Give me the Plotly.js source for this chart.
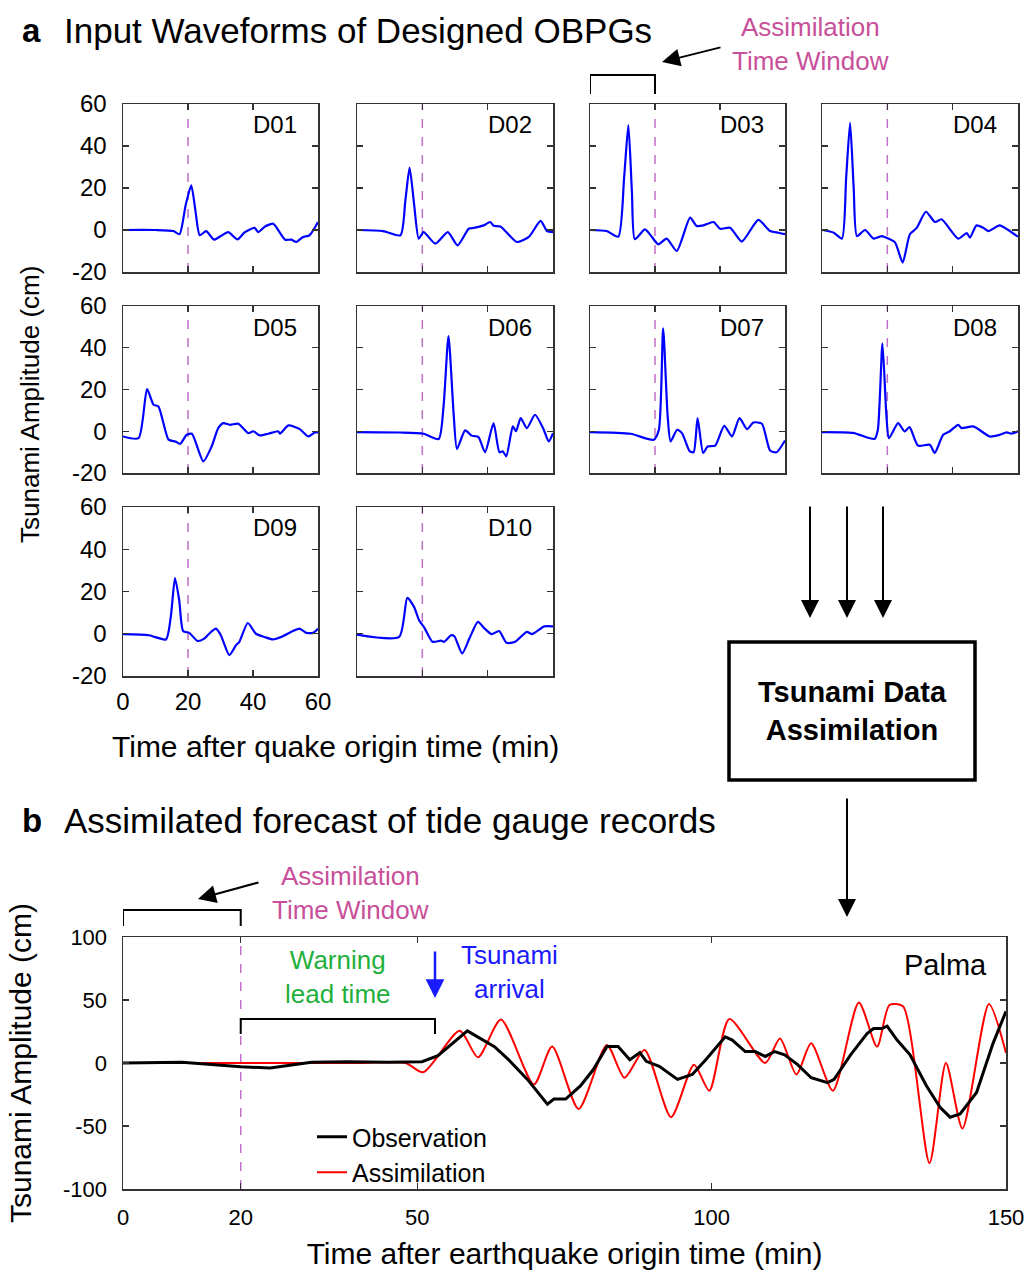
<!DOCTYPE html>
<html>
<head>
<meta charset="utf-8">
<script src="https://cdn.plot.ly/plotly-3.0.1.min.js"></script>
<style>html,body{margin:0;padding:0;background:#fff;}#chart{width:1027px;height:1275px;}</style>
</head>
<body>
<div id="chart"></div>
<script>
// ---------- DATA ----------
const gaugeNames = ['D01','D02','D03','D04','D05','D06','D07','D08','D09','D10'];

const t_D01 = [0,10,15.5,17.4,19.3,21,22.3,23.6,25.6,28,30,32.4,35.2,37.5,40.5,41.6,43.7,46.2,47.1,49.9,51.8,53.3,55.4,57.4,60];
const a_D01 = [0,0,-0.5,-2,12,21.3,9,-2.5,-0.5,-4.6,-3,-1,-4.5,-1,1,-1,1.7,3,1.5,-4.6,-4.6,-5.7,-3.3,-2.5,3.8];

const t_D02 = [0,8,13.3,14.8,16.1,17.5,18.9,20.4,24,27.8,30.8,34.2,35.7,37.2,38.8,40.8,41.8,43.9,48.9,52.6,56.2,58.2,60];
const a_D02 = [0,-0.5,-2.5,14,29.7,12,-4.1,-1,-6.5,-1,-7.3,0.6,1,1.5,2.2,3.8,2,1.7,-5.7,-3.3,4.3,-0.5,-1];

const t_D03 = [0,5.1,8.7,10.5,11.8,12.9,13.8,16.9,19,21,23.6,26.7,30.8,32.8,34.9,38,40,43.1,46.7,51.8,55.4,58,60];
const a_D03 = [0,-0.5,-3.2,25,49.9,18,-4.4,0.3,-3.2,-6.8,-4.1,-10,5.9,1.9,2.2,3.8,0.6,1.1,-5.5,4.8,-0.5,-1.3,-2];

const t_D04 = [0,3.6,6.1,7.4,8.6,9.7,10.7,13.2,15.8,18.3,20.3,22.4,24.7,26.9,29,31.8,34.6,36.6,41.7,44.3,45.3,47.3,49.3,50.9,54.4,57,60];
const a_D04 = [0,-1.3,-4.1,25,51,20,-2.9,0,-4.1,-2.9,-4.1,-6,-15.5,-2,1,8.7,3.8,5.1,-4.1,-1.5,-3.6,2.2,1.1,-0.5,2.2,0,-3.2];

const t_D05 = [0,4.8,7.4,9.4,10.9,14,16.1,17.6,19.6,21.2,24.7,27.3,29.3,30.9,32.9,35.5,38.5,40.1,42.1,44.7,47.7,48.3,50.9,54.4,57,59,60];
const a_D05 = [-2.5,-3.3,20.2,12.7,11.9,-4,-4.9,-6,-1.7,-1.2,-14.4,-7.2,1.5,3.9,3.1,3.6,-0.9,0,-2,-1.2,0,-1.1,2.8,1,-2.5,-0.6,-0.6];

const t_D06 = [0,13.3,20.4,25,26.5,28,29.6,30.6,33.1,35.1,37.2,39.2,41.8,43.6,44.6,45.7,47.7,48.7,50.1,52,54.5,57.1,58.7,60];
const a_D06 = [-0.4,-0.6,-1.2,-3.7,12,45.6,8,-8.5,0.4,-2.1,-2.8,-10.1,3.9,-10.1,-9.6,-12,2.3,0,6.3,1.5,7.9,1,-4.9,-0.9];

const t_D07 = [0,12.5,19.6,21.2,22.5,23.9,24.8,26.8,28.3,30.7,31.9,33.1,34.8,36.2,38.5,41.3,43.7,46,48.3,50.3,52.9,55.4,57.4,60];
const a_D07 = [-0.4,-1.2,-4.1,0.7,49.3,7,-4.9,0.7,-0.9,-9.6,-10,6.3,-10.4,-7.3,-6.9,2.6,-2.5,6.3,1,4.2,3.6,-9.2,-10.1,-4.4];

const t_D08 = [0,9.5,16.1,17.1,18.5,19.7,20.5,23.3,25.3,26.8,29.4,33,34.5,37.1,39.1,41.7,42.7,46.3,51.4,54.4,56.5,58,60];
const a_D08 = [-0.4,-0.8,-3.7,0.7,42.1,8,-3.3,3.9,-0.1,2,-6.9,-6.5,-10.4,-1.7,0,3.1,1.5,2.3,-2.5,-1.7,-0.5,-1.1,0];

const t_D09 = [0,8,13.2,14.7,16,17.3,18.5,20.4,22.9,25,26.5,28.6,30.1,32.7,34.8,35.8,38.4,40.9,43.5,46.1,49.2,51.8,54.3,56.4,58.5,60];
const a_D09 = [-0.2,-0.7,-2.7,8,26.4,15.8,1.3,0.4,-3.4,-2.3,0,2.4,-0.7,-10.1,-5.4,-3.8,5.1,0,-1.5,-2.7,-1.2,0.9,2.4,0.4,0.4,2.4];

const t_D10 = [0,12.9,15.4,17.5,19,20.6,23.1,25.7,26.7,28.8,29.8,32.2,34.4,37,39.1,41.2,43.5,45.8,48.4,52,53.6,57.3,60];
const a_D10 = [-0.4,-1.5,17,12.6,6.4,2.9,-3.8,-3.3,-3.8,-0.7,-1.2,-9.3,-2.3,5.6,2.4,-0.2,1.3,-4.3,-3.8,0.9,-0.2,3.5,3.5];

// Palma tide gauge
const t_obs = [0,10,20,25,32,38,45,50.8,53.5,58.5,63.1,65.4,68.7,72.1,73.2,75.2,77.7,79.9,82.2,84.1,86.1,87.8,88.9,91.1,94.2,96.7,99,102.3,103.5,105.7,107.4,109.1,110.7,112.4,114.6,116.9,119.7,120.8,123.6,126.4,127.5,128.9,129.8,131.5,133.7,136.5,138.8,140.5,142.2,145,147.8,150];
const observation = [0,0.5,-3,-4,0.5,1,0.5,1,5.8,25.5,13,3.1,-13,-32.6,-28.6,-28.6,-18.2,-5.2,13,13,2.6,8.3,1.3,-2.6,-13,-9.1,2.6,20.8,18.2,9.1,9.1,5.2,9.1,6.5,-1.3,-11.7,-15.6,-13,6.5,23.4,27.3,27.3,29.2,18.2,6.5,-18.2,-35.2,-43,-40.4,-23.4,15.6,41];

const t_asm = [0,20,40,48,51,57.2,60.3,64.2,69.8,72.9,77.4,82.2,85.2,88.6,93.1,97,99.6,103,109.1,111.6,114.4,116.9,120.6,125,128.1,130.2,132.5,137,139.8,142.6,147.1,150];
const assimilation = [0,0,0,0,-7.4,25.5,4.5,34.5,-17,13,-36.5,14.3,-11.7,10.4,-43,-1.3,-22,35,0,19.5,-9.1,15.6,-22,48,13,46,45,-79.4,0,-52,46.9,8];

const assimWindowMin = 20;     // end of assimilation time window (min)
const tsunamiArrivalMin = 53;  // tsunami arrival at Palma (min)

const smallXTicks = [0,20,40,60];
const smallXTickText = ['0','20','40','60'];
const smallYTicks = [-20,0,20,40,60];
const smallYTickText = ['-20','0','20','40','60'];
const bigXTicks = [0,20,50,100,150];
const bigXTickText = ['0','20','50','100','150'];
const bigYTicks = [-100,-50,0,50,100];
const bigYTickText = ['-100','-50','0','50','100'];

// ---------- LAYOUT HELPERS ----------
const W = 1027, H = 1275;
const PX = x => x / W;
const PY = y => 1 - y / H;
const FONT = 'Liberation Sans, Arial, Helvetica, sans-serif';
const MAG = '#c8509a';

const series = [[t_D01,a_D01],[t_D02,a_D02],[t_D03,a_D03],[t_D04,a_D04],[t_D05,a_D05],
                [t_D06,a_D06],[t_D07,a_D07],[t_D08,a_D08],[t_D09,a_D09],[t_D10,a_D10]];
const colsPx = [[123,318],[357,553],[590,785],[822,1018]];
const rowsPx = [[104,272],[306,473],[507,676]];

const data = [];
const layout = {
  width: W, height: H,
  margin: {l:0, r:0, t:0, b:0},
  paper_bgcolor: '#fff', plot_bgcolor: '#fff',
  font: {family: FONT, color: '#000'},
  showlegend: true,
  legend: {x: PX(312), y: PY(1114), xanchor: 'left', yanchor: 'top', bgcolor: 'rgba(0,0,0,0)',
           font: {size: 25, family: FONT}, traceorder: 'reversed', tracegroupgap: 0},
  shapes: [], annotations: []
};

const axCommon = {
  ticks: 'inside', ticklen: 6, tickwidth: 1.2, tickcolor: '#333',
  showline: true, linecolor: '#333', linewidth: 1.5, mirror: 'ticks',
  showgrid: false, zeroline: false, fixedrange: true
};

series.forEach((s, i) => {
  const n = i + 1;
  const xs = n === 1 ? '' : String(n);
  const row = Math.floor(i / 4), col = i % 4;
  data.push({
    x: s[0], y: s[1], xaxis: 'x' + xs, yaxis: 'y' + xs,
    type: 'scatter', mode: 'lines', name: gaugeNames[i], showlegend: false,
    line: {color: '#0000ff', width: 2.2, shape: 'spline', smoothing: 0.6},
    hoverinfo: 'skip'
  });
  layout['xaxis' + xs] = Object.assign({}, axCommon, {
    domain: [PX(colsPx[col][0]), PX(colsPx[col][1])], range: [0, 60], anchor: 'y' + xs,
    tickvals: smallXTicks, ticktext: smallXTickText, showticklabels: i === 8,
    tickfont: {size: 24, family: FONT}, ticklabelstandoff: 4
  });
  layout['yaxis' + xs] = Object.assign({}, axCommon, {
    domain: [PY(rowsPx[row][1]), PY(rowsPx[row][0])], range: [-20, 60], anchor: 'x' + xs,
    tickvals: smallYTicks, ticktext: smallYTickText, showticklabels: col === 0,
    tickfont: {size: 24, family: FONT}, ticklabelstandoff: 10
  });
  layout.shapes.push({type: 'line', xref: 'x' + xs, yref: 'y' + xs + ' domain',
    x0: assimWindowMin, x1: assimWindowMin, y0: 0, y1: 1, layer: 'below',
    line: {color: '#c070c8', width: 1.5, dash: 'dash'}});
  layout.annotations.push({xref: 'paper', yref: 'paper',
    x: PX(colsPx[col][1] - 19), y: PY(rowsPx[row][0] + 21), xanchor: 'right', yanchor: 'middle',
    text: gaugeNames[i], showarrow: false, font: {size: 24, family: FONT, color: '#000'}});
});

// bottom panel traces
data.push({x: t_asm, y: assimilation, xaxis: 'x11', yaxis: 'y11', type: 'scatter', mode: 'lines',
  name: 'Assimilation', line: {color: '#ff0000', width: 2, shape: 'spline', smoothing: 0.7}, hoverinfo: 'skip'});
data.push({x: t_obs, y: observation, xaxis: 'x11', yaxis: 'y11', type: 'scatter', mode: 'lines',
  name: 'Observation', line: {color: '#000000', width: 3}, hoverinfo: 'skip'});

layout.xaxis11 = Object.assign({}, axCommon, {
  domain: [PX(123), PX(1006)], range: [0, 150], anchor: 'y11',
  tickvals: bigXTicks, ticktext: bigXTickText, tickfont: {size: 22, family: FONT}, ticklabelstandoff: 8,
  title: {text: 'Time after earthquake origin time (min)', font: {size: 30, family: FONT}, standoff: 14}
});
layout.yaxis11 = Object.assign({}, axCommon, {
  domain: [PY(1189), PY(937)], range: [-100, 100], anchor: 'x11',
  tickvals: bigYTicks, ticktext: bigYTickText, tickfont: {size: 22, family: FONT}, ticklabelstandoff: 10,
  title: {text: 'Tsunami Amplitude (cm)', font: {size: 30, family: FONT}, standoff: 22}
});
layout.shapes.push({type: 'line', xref: 'x11', yref: 'y11 domain', x0: assimWindowMin, x1: assimWindowMin,
  y0: 0, y1: 1, layer: 'below', line: {color: '#c070c8', width: 1.5, dash: 'dash'}});

// brackets
const bracket = (xref, x0, x1, yTop, yEnd) => ({type: 'path', xref: xref, yref: 'paper',
  path: `M ${x0},${PY(yEnd)} L ${x0},${PY(yTop)} L ${x1},${PY(yTop)} L ${x1},${PY(yEnd)}`,
  line: {color: '#000', width: 2}});
layout.shapes.push(bracket('x3', 0, assimWindowMin, 75, 94));
layout.shapes.push(bracket('x11', 0, assimWindowMin, 910, 926));
layout.shapes.push(bracket('x11', assimWindowMin, tsunamiArrivalMin, 1019, 1034));

// assimilation box
layout.shapes.push({type: 'rect', xref: 'paper', yref: 'paper', x0: PX(729), x1: PX(975), y0: PY(780), y1: PY(642),
  line: {color: '#000', width: 3.5}, fillcolor: 'rgba(0,0,0,0)'});

// text annotations
const txt = (x, y, text, size, color, xanchor, extra) => Object.assign({xref: 'paper', yref: 'paper',
  x: PX(x), y: PY(y), text: text, showarrow: false, xanchor: xanchor || 'center', yanchor: 'middle',
  font: {size: size, family: FONT, color: color || '#000'}}, extra || {});
layout.annotations.push(txt(20, 31, '<b>a</b>', 33, '#000', 'left'));
layout.annotations.push(txt(62, 31, 'Input Waveforms of Designed OBPGs', 35, '#000', 'left'));
layout.annotations.push(txt(20, 820, '<b>b</b>', 33, '#000', 'left'));
layout.annotations.push(txt(62, 820, 'Assimilated forecast of tide gauge records', 35, '#000', 'left'));
layout.annotations.push(txt(810, 44, 'Assimilation<br>Time Window', 26, MAG));
layout.annotations.push(txt(350, 893, 'Assimilation<br>Time Window', 26, MAG));
layout.annotations.push(txt(338, 977, 'Warning<br>lead time', 26, '#1fb03c'));
layout.annotations.push(txt(509, 972, 'Tsunami<br>arrival', 26, '#1a1aff'));
layout.annotations.push(txt(945, 965, 'Palma', 29, '#000'));
layout.annotations.push(txt(852, 711, '<b>Tsunami Data<br>Assimilation</b>', 29, '#000'));
layout.annotations.push(txt(335, 746, 'Time after quake origin time (min)', 30, '#000'));
layout.annotations.push(txt(30, 405, 'Tsunami Amplitude (cm)', 26, '#000', 'center', {textangle: -90}));

// arrows
const arrow = (x, y, ax, ay, color, extra) => Object.assign({xref: 'paper', yref: 'paper', x: PX(x), y: PY(y),
  ax: ax, ay: ay, axref: 'pixel', ayref: 'pixel', text: '', showarrow: true,
  arrowhead: 2, arrowsize: 1.8, arrowwidth: 2, arrowcolor: color || '#000', standoff: 0, startstandoff: 0}, extra || {});
layout.annotations.push(arrow(662, 62, 60, -15));
layout.annotations.push(arrow(198, 899, 62, -17));
[810, 847, 883].forEach(x => layout.annotations.push(arrow(x, 618, 0, -113)));
layout.annotations.push(arrow(847, 917, 0, -120));
layout.annotations.push({xref: 'x11', yref: 'paper', x: tsunamiArrivalMin, y: PY(998), ax: 0, ay: -48,
  axref: 'pixel', ayref: 'pixel', text: '', showarrow: true, arrowhead: 2, arrowsize: 1.5,
  arrowwidth: 2.5, arrowcolor: '#1a1aff', standoff: 0});

Plotly.newPlot('chart', data, layout, {displayModeBar: false, staticPlot: true});
</script>
</body>
</html>
